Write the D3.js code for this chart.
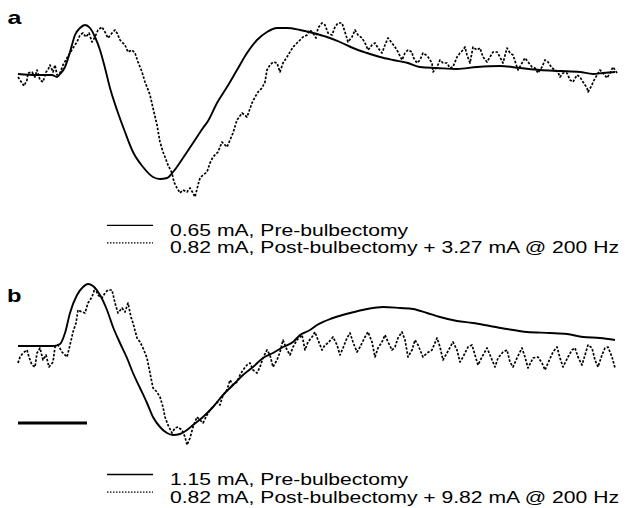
<!DOCTYPE html>
<meta charset="utf-8">

<!-- Load d3.js -->
<script src="https://d3js.org/d3.v7.min.js"></script>

<div id="my_dataviz"></div>
<style>
  body { margin: 0; background: #fff; }
  svg text {
    font-family: "Liberation Sans", Arial, Helvetica, sans-serif;
    fill: #000;
  }
</style>

<script>

  // time in samples (0 = sweep start), amplitude relative to the pre-stimulus baseline

  // panel a, pre-bulbectomy (solid)
  var aPreT = [0, 19, 34, 39, 42, 47, 52, 57, 62, 67, 72, 77, 82, 87, 92, 99, 107, 115, 125, 135, 142, 149, 155, 165, 175, 185, 190, 199, 209, 219, 229, 239, 249, 259, 269, 282, 295, 309, 322, 335, 349, 362, 375, 390, 402, 419, 439, 459, 482, 502, 522, 542, 562, 575, 585, 597];
  var aPreV = [0, -1, -1, -3, 0, 7, 22, 39, 46, 49, 46, 37, 24, 6, -14, -36, -58, -78, -93, -103, -105, -104, -98, -84, -69, -54, -47, -29, -13, 4, 21, 34, 42, 46, 46, 44, 41, 37, 32, 26, 21, 17, 14, 11, 7, 6, 5, 7, 8, 6, 4, 3, 2, 0, 1, 2];

  // panel a, post-bulbectomy + 200 Hz (dotted)
  var aPostT = [0, 4, 6, 9, 10, 14, 17, 19, 22, 25, 28, 30, 32, 35, 37, 39, 42, 45, 49, 52, 55, 59, 62, 65, 68, 71, 74, 77, 80, 84, 87, 90, 94, 97, 99, 102, 107, 110, 114, 117, 120, 124, 127, 129, 132, 135, 139, 142, 145, 147, 150, 154, 156, 159, 162, 165, 169, 172, 175, 177, 180, 182, 185, 189, 192, 195, 200, 204, 209, 212, 215, 219, 224, 229, 234, 237, 240, 244, 247, 249, 252, 255, 259, 262, 265, 269, 272, 275, 279, 282, 285, 289, 292, 295, 298, 300, 304, 307, 310, 314, 317, 320, 324, 327, 330, 334, 337, 340, 344, 347, 350, 354, 357, 360, 364, 367, 370, 374, 377, 380, 384, 387, 390, 394, 395, 399, 402, 405, 408, 410, 414, 415, 419, 422, 425, 429, 432, 435, 439, 442, 445, 447, 449, 452, 455, 459, 462, 465, 469, 472, 475, 479, 482, 485, 489, 492, 495, 499, 500, 504, 507, 510, 514, 517, 520, 524, 527, 530, 534, 537, 540, 542, 545, 549, 552, 555, 559, 562, 565, 569, 570, 574, 575, 579, 582, 585, 589, 592, 595, 597, 599];
  var aPostV = [-3, -9, -12, -6, 1, 2, -3, 4, -6, -8, 2, 4, 9, 2, 9, -1, 1, 9, 16, 21, 26, 32, 39, 41, 37, 41, 32, 37, 44, 47, 42, 36, 41, 44, 41, 34, 29, 22, 24, 21, 12, 2, -8, -13, -21, -34, -51, -68, -78, -83, -91, -99, -108, -114, -119, -116, -118, -114, -119, -123, -111, -104, -101, -98, -89, -83, -78, -68, -73, -66, -59, -46, -39, -43, -29, -23, -18, -14, -8, 4, 9, 12, 11, 2, 11, 17, 22, 27, 31, 34, 37, 39, 44, 41, 36, 46, 51, 49, 41, 39, 47, 51, 51, 42, 32, 37, 44, 39, 36, 31, 24, 29, 31, 26, 21, 29, 36, 31, 27, 22, 14, 21, 24, 22, 17, 11, 14, 21, 19, 17, 11, 2, 7, 14, 11, 11, 6, 7, 17, 21, 24, 27, 19, 11, 27, 24, 26, 17, 12, 17, 22, 22, 17, 11, 26, 21, 19, 7, 4, 11, 16, 12, 7, 6, 1, 7, 14, 12, 6, 4, 2, -3, 1, 1, -6, -8, -1, -3, -8, -14, -18, -11, -8, -1, 4, 1, -4, 1, 7, 4, 1];

  // panel b, pre-bulbectomy (solid)
  var bPreT = [0, 35, 42, 47, 52, 59, 65, 70, 75, 82, 89, 95, 102, 109, 115, 122, 129, 135, 142, 149, 155, 162, 169, 175, 185, 195, 205, 215, 225, 235, 245, 255, 265, 275, 282, 292, 299, 315, 332, 349, 365, 382, 395, 409, 422, 439, 455, 472, 489, 509, 532, 549, 565, 582, 597];
  var bPreV = [0, 0, 2, 13, 33, 51, 59, 62, 60, 51, 36, 19, 3, -12, -27, -42, -57, -71, -81, -87, -89, -88, -84, -79, -71, -61, -49, -39, -29, -21, -12, -7, -1, 4, 11, 16, 21, 28, 33, 37, 39, 38, 37, 33, 29, 25, 23, 20, 17, 14, 13, 12, 9, 8, 6];

  // panel b, post-bulbectomy + 200 Hz (dotted)
  var bPostT = [0, 2, 5, 9, 11, 14, 17, 19, 22, 25, 28, 31, 35, 37, 40, 44, 49, 52, 55, 58, 60, 64, 67, 70, 74, 77, 80, 84, 87, 90, 94, 97, 100, 104, 107, 110, 113, 115, 119, 122, 125, 129, 132, 135, 139, 142, 145, 147, 150, 154, 157, 160, 164, 167, 169, 172, 175, 179, 182, 185, 189, 192, 195, 199, 202, 205, 209, 212, 215, 219, 222, 225, 229, 232, 235, 239, 242, 245, 249, 252, 255, 259, 262, 265, 269, 272, 275, 279, 284, 287, 290, 294, 297, 300, 304, 307, 310, 315, 319, 322, 325, 329, 332, 335, 339, 342, 347, 350, 354, 357, 360, 364, 367, 370, 374, 377, 380, 384, 387, 390, 394, 397, 400, 405, 409, 414, 419, 422, 425, 429, 435, 439, 442, 445, 450, 454, 457, 460, 464, 469, 472, 477, 480, 485, 489, 492, 495, 499, 504, 507, 510, 515, 520, 524, 527, 530, 535, 539, 542, 545, 550, 554, 557, 560, 564, 567, 570, 574, 577, 580, 584, 587, 590, 594, 597];
  var bPostV = [-17, -11, -7, -4, -11, -19, -21, -7, -2, -14, -9, -21, -16, -1, 1, -6, -11, 1, 14, 23, 36, 34, 33, 43, 49, 58, 51, 48, 53, 56, 56, 43, 33, 38, 34, 43, 29, 23, 8, 4, -2, -12, -27, -42, -46, -51, -61, -71, -79, -87, -82, -81, -84, -91, -99, -92, -81, -71, -74, -77, -69, -64, -61, -56, -59, -49, -44, -34, -39, -36, -29, -24, -19, -17, -24, -27, -21, -12, -4, -9, -21, -14, -6, 6, -4, -9, -1, 6, 11, -4, 4, 9, 14, 6, -4, 1, 3, 9, 1, -9, -2, 8, 13, 4, -6, -1, 9, 14, 4, -11, -2, 4, 11, 4, -4, -1, 8, 14, 6, -11, -4, 6, 1, -11, -7, -4, 8, -1, -14, -7, 4, -4, -16, -11, -1, 1, -9, -19, -11, -2, -9, -21, -12, -6, -4, -16, -21, -12, -2, -11, -22, -12, -11, -17, -24, -17, -6, -1, -12, -21, -11, -4, -2, -11, -19, -9, 1, -2, -14, -21, -9, -2, -1, -11, -22];

  // scale bar (samples) and legend entries
  var scaleBarT = [0, 69];
  var legendA = ["0.65 mA, Pre-bulbectomy", "0.82 mA, Post-bulbectomy + 3.27 mA @ 200 Hz"];
  var legendB = ["1.15 mA, Pre-bulbectomy", "0.82 mA, Post-bulbectomy + 9.82 mA @ 200 Hz"];

  var width = 628, height = 508;
  var textStretch = 1.32;

  var svg = d3.select("#my_dataviz")
    .append("svg")
    .attr("width", width)
    .attr("height", height);

  var x = d3.scaleLinear().domain([0, 600]).range([18, 618]);
  var yA = d3.scaleLinear().domain([-130, 60]).range([204, 14]);
  var yB = d3.scaleLinear().domain([-110, 70]).range([456, 276]);

  function zip(t, v) {
    return t.map(function (d, i) { return { t: d, v: v[i] }; });
  }

  function drawTrace(t, v, y, dotted) {
    var line = d3.line()
      .x(function (d) { return x(d.t); })
      .y(function (d) { return y(d.v); })
      .curve(dotted ? d3.curveLinear : d3.curveMonotoneX);
    svg.append("path")
      .datum(zip(t, v))
      .attr("d", line)
      .attr("fill", "none")
      .attr("stroke", "#000")
      .attr("stroke-width", dotted ? 1.7 : 1.9)
      .attr("stroke-dasharray", dotted ? "2.5,1.6" : null)
      .attr("stroke-linejoin", "round");
  }

  drawTrace(aPostT, aPostV, yA, true);
  drawTrace(aPreT, aPreV, yA, false);
  drawTrace(bPostT, bPostV, yB, true);
  drawTrace(bPreT, bPreV, yB, false);

  // scale bar under panel b
  svg.append("line")
    .attr("x1", x(scaleBarT[0]))
    .attr("x2", x(scaleBarT[1]))
    .attr("y1", yB(-77))
    .attr("y2", yB(-77))
    .attr("stroke", "#000")
    .attr("stroke-width", 3);

  // stretched text, the figure was scaled wider than tall
  function stretchedText(tx, ty, str, size, weight) {
    svg.append("text")
      .attr("transform", "translate(" + tx + "," + ty + ") scale(" + textStretch + ",1)")
      .style("font-size", size + "px")
      .style("font-weight", weight)
      .text(str);
  }
  stretchedText(7.5, 24, "a", 19, "bold");
  stretchedText(7, 302, "b", 18, "bold");

  // legends
  function legend(items, top) {
    items.forEach(function (s, i) {
      var base = top + i * 17.6;
      svg.append("line")
        .attr("x1", 107).attr("x2", 153)
        .attr("y1", base - 10.5).attr("y2", base - 10.5)
        .attr("stroke", "#000")
        .attr("stroke-width", i === 0 ? 1.3 : 1.1)
        .attr("stroke-dasharray", i === 0 ? null : "1.5,1.5");
      stretchedText(170, base, s, 16, "normal");
    });
  }
  legend(legendA, 235.8);
  legend(legendB, 485);

</script>
